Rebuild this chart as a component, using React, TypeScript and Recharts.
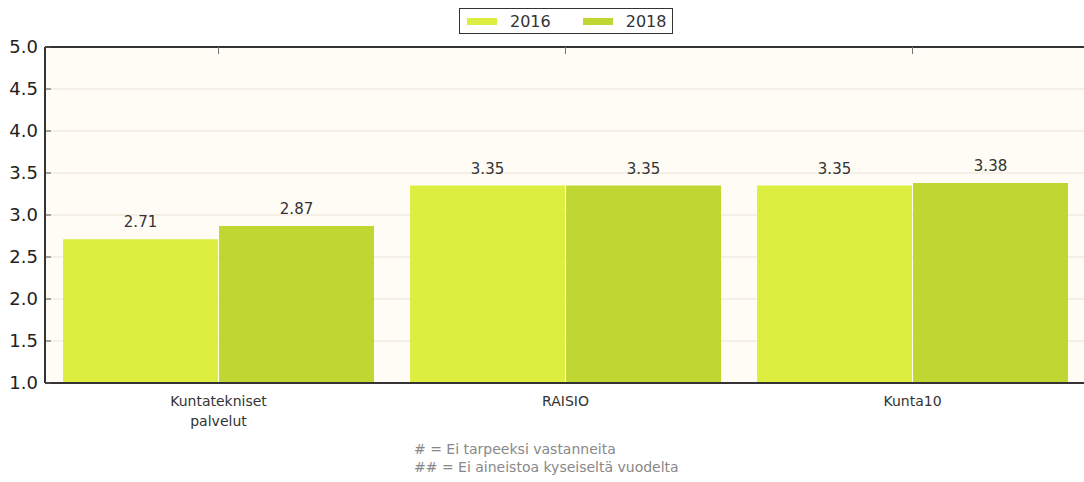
import React from 'react';
import { Bar, BarChart, CartesianGrid, LabelList, XAxis, YAxis } from 'recharts';

const categories = ['Kuntatekniset\npalvelut', 'RAISIO', 'Kunta10'];
const values2016 = [2.71, 3.35, 3.35];
const values2018 = [2.87, 3.35, 3.38];
const yTicks = [1.0, 1.5, 2.0, 2.5, 3.0, 3.5, 4.0, 4.5, 5.0];
const seriesNames = ['2016', '2018'];
const seriesColors = ['#dcee40', '#c0d733'];
const footnotes = ['# = Ei tarpeeksi vastanneita', '## = Ei aineistoa kyseiseltä vuodelta'];

const data = categories.map((name, i) => ({ name, y2016: values2016[i], y2018: values2018[i] }));

const FONT = '"DejaVu Sans", Verdana, sans-serif';

function YTick(props: any) {
  const { x, y, payload } = props;
  return (
    <g>
      <text x={x} y={y} dy={6} textAnchor="end" fontSize={18} fill="#222" fontFamily={FONT}>
        {payload.value.toFixed(1)}
      </text>
      <line x1={x + 7} x2={x + 13} y1={y} y2={y} stroke="#555" strokeWidth={1} />
    </g>
  );
}

function XTick(props: any) {
  const { x, y, payload } = props;
  const lines = String(payload.value).split('\n');
  return (
    <text x={x} y={y} textAnchor="middle" fontSize={14} fill="#333" fontFamily={FONT}>
      {lines.map((l, i) => (
        <tspan key={i} x={x} dy={i === 0 ? 15 : 20}>
          {l}
        </tspan>
      ))}
    </text>
  );
}

function TopTick(props: any) {
  const { x, y } = props;
  return <line x1={x} x2={x} y1={y} y2={y + 7} stroke="#777" strokeWidth={1} />;
}

export default function App() {
  return (
    <div style={{ position: 'absolute', left: 0, top: 0, width: 1084, height: 482, overflow: 'hidden', background: '#fff' }}>
      <BarChart
        width={1090}
        height={482}
        data={data}
        margin={{ top: 46, right: 4, left: 0, bottom: 0 }}
        barCategoryGap="5.2%"
        barGap={1}
      >
        <CartesianGrid horizontal vertical={false} stroke="#e9e3d8" fill="#fffcf5" />
        <XAxis
          dataKey="name"
          height={99}
          tick={<XTick />}
          tickLine={false}
          axisLine={{ stroke: '#333', strokeWidth: 2 }}
          interval={0}
        />
        <XAxis
          xAxisId="top"
          dataKey="name"
          orientation="top"
          height={1}
          tickSize={0}
          tickMargin={0}
          tick={<TopTick />}
          tickLine={false}
          axisLine={{ stroke: '#333', strokeWidth: 2 }}
          interval={0}
        />
        <YAxis
          width={45}
          domain={[1, 5]}
          ticks={yTicks}
          allowDataOverflow
          tickSize={6}
          tickMargin={1}
          tickLine={false}
          tick={<YTick />}
          axisLine={{ stroke: '#333', strokeWidth: 2 }}
        />
        <Bar dataKey="y2016" name={seriesNames[0]} fill={seriesColors[0]} isAnimationActive={false}>
          <LabelList dataKey="y2016" position="top" offset={12} fontSize={15} fill="#333" fontFamily={FONT} formatter={(v: any) => Number(v).toFixed(2)} />
        </Bar>
        <Bar dataKey="y2018" name={seriesNames[1]} fill={seriesColors[1]} isAnimationActive={false}>
          <LabelList dataKey="y2018" position="top" offset={12} fontSize={15} fill="#333" fontFamily={FONT} formatter={(v: any) => Number(v).toFixed(2)} />
        </Bar>
      </BarChart>
      <div
        style={{
          position: 'absolute',
          left: 459,
          top: 8,
          display: 'flex',
          alignItems: 'center',
          border: '1.5px solid #333',
          background: '#fff',
          height: 24,
          padding: '0 6px 0 7px',
          fontFamily: FONT,
          fontSize: 16,
          color: '#333',
        }}
      >
        {seriesNames.map((n, i) => (
          <div key={n} style={{ display: 'flex', alignItems: 'center', marginRight: i === 0 ? 32 : 0 }}>
            <span style={{ display: 'inline-block', width: 30, height: 7, background: seriesColors[i], marginRight: 13 }} />
            <span>{n}</span>
          </div>
        ))}
      </div>
      <div
        style={{
          position: 'absolute',
          left: 414,
          top: 440,
          fontFamily: FONT,
          fontSize: 14,
          lineHeight: '18px',
          color: '#888',
          whiteSpace: 'pre',
        }}
      >
        {footnotes.map((f, i) => (
          <div key={i}>{f}</div>
        ))}
      </div>
    </div>
  );
}
